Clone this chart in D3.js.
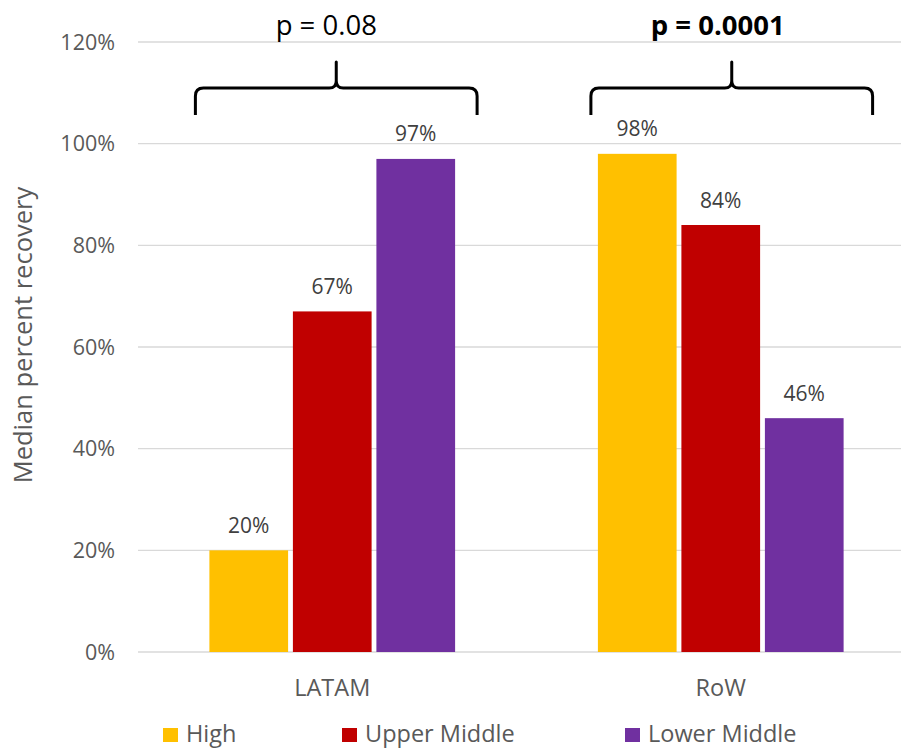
<!DOCTYPE html>
<html>
<head>
<meta charset="utf-8">
<script src="https://cdn.jsdelivr.net/npm/d3@7"></script>
<style>
  html, body { margin: 0; padding: 0; background: #fff; }
  svg { display: block; }
  text { font-family: "Open Sans", sans-serif; }
</style>
</head>
<body>
<svg id="chart" width="901" height="748"></svg>
<script>
// ---- data ----
const categories = ["LATAM", "RoW"];
const seriesNames = ["High", "Upper Middle", "Lower Middle"];
const seriesColors = ["#FFC000", "#C00000", "#7030A0"];
const highValues = [20, 98];
const upperMiddleValues = [67, 84];
const lowerMiddleValues = [97, 46];
const yTicks = [0, 20, 40, 60, 80, 100, 120];
const pLabels = ["p = 0.08", "p = 0.0001"];
const pBold = [false, true];
const yTitle = "Median percent recovery";

const seriesValues = [highValues, upperMiddleValues, lowerMiddleValues];

const svg = d3.select("#chart");
const plot = { left: 138, right: 915, top: 42, bottom: 652 };

const x0 = d3.scaleBand().domain(categories).range([plot.left, plot.right]).padding(0);
const x1 = d3.scaleBand().domain(seriesNames).range([0, x0.bandwidth()])
  .paddingInner(0.0575).paddingOuter(0.855);
const y = d3.scaleLinear().domain([0, 120]).range([plot.bottom, plot.top]);

// gridlines
svg.append("g").selectAll("line").data(yTicks).join("line")
  .attr("x1", plot.left).attr("x2", plot.right)
  .attr("y1", d => y(d)).attr("y2", d => y(d))
  .attr("stroke", "#D9D9D9").attr("stroke-width", 1.3);

// y tick labels via axis
const yAxis = d3.axisLeft(y).tickValues(yTicks).tickFormat(d => d + "%").tickSize(0).tickPadding(0);
const yg = svg.append("g").attr("transform", `translate(115,0)`).call(yAxis);
yg.select(".domain").remove();
yg.selectAll("text").attr("font-family", "Open Sans, sans-serif").attr("font-size", 21.5)
  .attr("fill", "#595959").attr("dy", "0.33em");

// y title
svg.append("text")
  .attr("transform", `translate(32,335) rotate(-90)`)
  .attr("text-anchor", "middle")
  .attr("font-size", 25.5).attr("fill", "#595959")
  .text(yTitle);

// bars
const rows = [];
categories.forEach((c, ci) => {
  seriesNames.forEach((s, si) => {
    rows.push({ cat: c, series: s, value: seriesValues[si][ci], color: seriesColors[si] });
  });
});

svg.append("g").selectAll("rect").data(rows).join("rect")
  .attr("x", d => x0(d.cat) + x1(d.series))
  .attr("width", x1.bandwidth())
  .attr("y", d => y(d.value))
  .attr("height", d => y(0) - y(d.value))
  .attr("fill", d => d.color);

// data labels
svg.append("g").selectAll("text").data(rows).join("text")
  .attr("x", d => x0(d.cat) + x1(d.series) + x1.bandwidth() / 2)
  .attr("y", d => y(d.value) - 17.5)
  .attr("text-anchor", "middle")
  .attr("font-size", 21).attr("fill", "#404040")
  .text(d => d.value + "%");

// category axis labels
const xAxis = d3.axisBottom(x0).tickSize(0).tickPadding(0);
const xg = svg.append("g").attr("transform", `translate(0,${plot.bottom})`).call(xAxis);
xg.select(".domain").remove();
xg.selectAll("text").attr("font-family", "Open Sans, sans-serif").attr("font-size", 23.5)
  .attr("fill", "#595959").attr("dy", null).attr("y", 44);

// braces + p labels
const braceData = categories.map((c, i) => {
  const xs = x0(c) + x1(seriesNames[0]);
  const xe = x0(c) + x1(seriesNames[2]) + x1.bandwidth();
  return { cat: c, x0: xs - 14 + (i === 1 ? 7 : 0), x1: xe + 22 + (i === 1 ? 7 : 0), xm: (xs + xe) / 2 + 4 + (i === 1 ? 7 : 0), label: pLabels[i], bold: pBold[i] };
});
function bracePath(d) {
  const yb = 115, yh = 88, yt = 62, r = 8, r2 = 7;
  return `M${d.x0},${yb} L${d.x0},${yh + r} Q${d.x0},${yh} ${d.x0 + r},${yh} ` +
    `L${d.xm - r2},${yh} Q${d.xm},${yh} ${d.xm},${yh - r2} L${d.xm},${yt} ` +
    `L${d.xm},${yh - r2} Q${d.xm},${yh} ${d.xm + r2},${yh} ` +
    `L${d.x1 - r},${yh} Q${d.x1},${yh} ${d.x1},${yh + r} L${d.x1},${yb}`;
}
svg.append("g").selectAll("path").data(braceData).join("path")
  .attr("d", bracePath).attr("fill", "none").attr("stroke", "#000")
  .attr("stroke-width", 3).attr("stroke-linejoin", "round");

svg.append("g").selectAll("text").data(braceData).join("text")
  .attr("x", d => d.xm - (d.bold ? 14 : 10))
  .attr("y", 35)
  .attr("text-anchor", "middle")
  .attr("font-size", d => d.bold ? 27.5 : 27.5)
  .attr("font-weight", d => d.bold ? "bold" : "normal")
  .attr("fill", "#000")
  .text(d => d.label);

// legend
const legendX = [163, 342, 625];
const lg = svg.append("g").selectAll("g").data(seriesNames).join("g")
  .attr("transform", (d, i) => `translate(${legendX[i]},728)`);
lg.append("rect").attr("width", 15).attr("height", 14).attr("fill", (d, i) => seriesColors[i]);
lg.append("text").attr("x", 23).attr("y", 13.5).attr("font-size", 23.5)
  .attr("fill", "#595959").text(d => d);
</script>
</body>
</html>
